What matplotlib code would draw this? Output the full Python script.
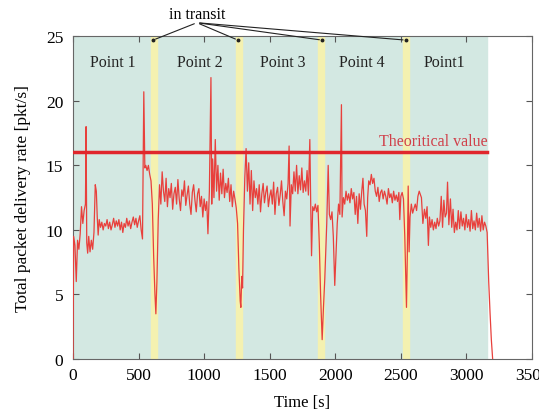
import matplotlib.pyplot as plt

seg_point1 = [(0, 0.0), (5, 9.5), (15, 8.8), (25, 6.0), (35, 9.2), (45, 8.5), (55, 9.7),
              (65, 11.8), (75, 10.5), (85, 11.5), (95, 12.0), (100, 18.0), (105, 9.0),
              (112, 8.2), (120, 9.5), (130, 8.3), (140, 9.2), (150, 8.5), (160, 9.8),
              (170, 13.5), (178, 13.0), (185, 11.0), (192, 9.6), (200, 10.8), (210, 10.2),
              (220, 10.6), (230, 10.0), (240, 10.5), (250, 10.3), (260, 10.8), (270, 10.1),
              (280, 10.6), (290, 10.0), (300, 10.4), (310, 10.9), (320, 10.2), (330, 10.7),
              (340, 10.3), (350, 10.8), (360, 10.0), (370, 10.6), (380, 9.8), (390, 10.5),
              (400, 10.2), (410, 10.9), (420, 10.3), (430, 10.7), (440, 10.1), (450, 10.6),
              (460, 11.0), (470, 10.4), (480, 10.9), (490, 10.2), (500, 10.7), (510, 11.1),
              (520, 10.0), (530, 9.3)]
seg_transit1 = [(540, 20.7), (548, 14.8), (555, 15.0), (565, 14.6), (575, 15.0), (585, 14.3),
                (595, 13.8), (605, 12.0), (615, 8.0), (625, 5.0), (632, 3.5), (640, 6.0)]
seg_point2 = [(650, 10.8), (660, 13.5), (670, 12.0), (680, 14.5), (690, 13.0), (700, 12.2),
              (710, 14.0), (720, 11.8), (730, 13.2), (740, 12.5), (750, 13.6), (760, 11.6),
              (770, 12.8), (780, 13.3), (790, 12.0), (800, 13.9), (810, 12.4), (820, 11.5),
              (830, 13.1), (840, 12.6), (850, 13.8), (860, 11.9), (870, 12.7), (880, 13.4),
              (890, 12.0), (900, 11.2), (910, 12.9), (920, 13.5), (930, 12.3), (940, 11.4),
              (950, 12.8), (960, 13.2), (970, 11.8), (980, 12.6), (990, 11.0), (1000, 12.4),
              (1010, 11.5), (1020, 12.2), (1029, 9.7), (1040, 13.0), (1052, 21.8), (1058, 12.0),
              (1065, 15.5), (1075, 12.5), (1085, 17.0), (1095, 13.0), (1105, 15.0), (1115, 12.3),
              (1125, 14.4), (1135, 12.8), (1145, 14.7), (1155, 12.5), (1165, 13.6), (1175, 12.9),
              (1185, 14.0), (1195, 12.2), (1205, 13.5), (1215, 11.8), (1225, 13.0), (1235, 12.4)]
seg_transit2 = [(1245, 11.7), (1255, 10.5), (1265, 7.0), (1275, 4.5), (1280, 4.0), (1287, 6.4),
                (1293, 5.5)]
seg_point3 = [(1300, 10.0), (1310, 14.0), (1320, 16.3), (1330, 13.0), (1340, 15.2), (1350, 12.0),
              (1360, 14.6), (1370, 11.5), (1380, 13.8), (1390, 12.5), (1400, 13.2), (1410, 12.0),
              (1420, 13.5), (1430, 11.4), (1440, 12.8), (1450, 13.6), (1460, 12.1), (1470, 12.9),
              (1480, 13.4), (1490, 11.8), (1500, 12.6), (1510, 13.1), (1520, 12.0), (1530, 13.7),
              (1540, 11.2), (1550, 12.8), (1560, 13.3), (1570, 11.9), (1580, 12.7), (1590, 13.8),
              (1600, 12.2), (1610, 11.1), (1620, 13.0), (1630, 12.4), (1640, 13.6), (1648, 16.5),
              (1655, 10.3), (1665, 13.5), (1675, 12.8), (1685, 14.5), (1695, 13.0), (1705, 15.0),
              (1715, 12.8), (1725, 14.2), (1735, 13.1), (1745, 14.8), (1755, 12.9), (1765, 13.8),
              (1775, 13.0), (1785, 14.6), (1795, 12.7), (1806, 17.0), (1812, 12.5), (1819, 8.0),
              (1828, 11.8), (1838, 11.5), (1848, 12.0), (1858, 11.4)]
seg_transit3 = [(1868, 11.9), (1878, 9.0), (1888, 5.0), (1900, 1.5), (1910, 4.0), (1920, 6.2)]
seg_point4 = [(1935, 10.5), (1946, 15.0), (1955, 11.2), (1965, 10.8), (1975, 11.4), (1985, 9.5),
              (1996, 5.7), (2005, 8.0), (2015, 10.5), (2025, 12.0), (2035, 11.2), (2047, 19.7),
              (2052, 11.0), (2062, 12.5), (2072, 12.0), (2082, 13.0), (2092, 12.3), (2102, 12.8),
              (2112, 12.1), (2122, 13.2), (2132, 12.4), (2142, 12.9), (2152, 11.2), (2162, 12.6),
              (2172, 10.5), (2182, 12.8), (2192, 11.6), (2202, 13.0), (2211, 14.0), (2220, 12.0),
              (2230, 11.5), (2240, 9.5), (2247, 12.5), (2255, 13.8), (2265, 13.5), (2275, 14.3),
              (2285, 13.6), (2295, 14.0), (2305, 13.0), (2315, 12.6), (2325, 13.3), (2335, 12.2),
              (2345, 12.9), (2355, 13.1), (2365, 12.4), (2375, 13.0), (2385, 12.6), (2395, 12.0),
              (2405, 13.2), (2415, 12.5), (2425, 12.8), (2435, 12.1), (2445, 13.0), (2455, 12.3),
              (2465, 12.7), (2475, 12.2), (2485, 12.9), (2492, 10.8), (2500, 12.6), (2510, 12.9)]
seg_transit4 = [(2520, 12.4), (2530, 9.5), (2543, 4.0), (2550, 8.5), (2556, 13.4), (2563, 8.3)]
seg_point1b = [(2570, 11.0), (2580, 12.0), (2590, 11.3), (2598, 11.6), (2610, 12.0), (2620, 11.5),
               (2630, 12.6), (2640, 13.0), (2657, 12.5), (2668, 10.5), (2680, 11.6), (2690, 10.9),
               (2700, 11.8), (2710, 8.8), (2718, 11.0), (2728, 10.2), (2738, 10.8), (2748, 10.0),
               (2758, 10.6), (2768, 10.1), (2778, 10.9), (2788, 10.3), (2798, 10.7), (2808, 12.6),
               (2818, 10.2), (2828, 12.3), (2838, 11.0), (2848, 11.3), (2856, 13.7), (2866, 10.4),
               (2878, 12.4), (2888, 10.2), (2898, 11.6), (2908, 9.8), (2918, 10.6), (2928, 10.0),
               (2938, 11.5), (2948, 10.1), (2958, 11.4), (2968, 10.3), (2978, 10.9), (2988, 10.0),
               (2998, 11.2), (3008, 10.2), (3018, 10.8), (3028, 9.9), (3038, 11.5), (3048, 10.1),
               (3058, 10.7), (3068, 10.0), (3078, 11.3), (3088, 10.2), (3098, 10.9), (3108, 9.9),
               (3118, 11.1), (3128, 10.0), (3138, 10.6), (3148, 10.3), (3158, 9.8), (3170, 6.0),
               (3180, 3.6), (3190, 1.5), (3200, 0.0)]

segments = [seg_point1, seg_transit1, seg_point2, seg_transit2, seg_point3,
            seg_transit3, seg_point4, seg_transit4, seg_point1b]
time_s = [p[0] for seg in segments for p in seg]
rate = [p[1] for seg in segments for p in seg]

transit_start = [595, 1242, 1867, 2515]
transit_end = [640, 1288, 1913, 2560]
transit_tip = [610, 1258, 1900, 2538]
meas_end = 3160
theory = 16

zone_labels = ['Point 1', 'Point 2', 'Point 3', 'Point 4', 'Point1']
zone_x = [300, 970, 1600, 2200, 2835]

plt.rcParams['font.family'] = 'Liberation Serif'
plt.rcParams['font.size'] = 12

fig = plt.figure(figsize=(5.39, 4.14), dpi=100)
ax = fig.add_axes([0.1354, 0.1304, 0.8516, 0.7796])

# zones
ax.axvspan(0, meas_end, color='#d3e8e2', zorder=0)
for a, b in zip(transit_start, transit_end):
    ax.axvspan(a, b, color='#f4f1b0', zorder=1)

ax.plot(time_s, rate, color='#e8403c', lw=0.9, zorder=3)
ax.plot([0, meas_end], [theory, theory], color='#e0262c', lw=2.5, zorder=4)
ax.text(meas_end, theory + 0.25, 'Theoritical value', color='#d0404a',
        ha='right', va='bottom', fontsize=11.5, zorder=5)

for lbl, x in zip(zone_labels, zone_x):
    ax.text(x, 23.0, lbl, ha='center', va='center', fontsize=11.5, color='#222222')

# annotation "in transit"
for tx in transit_tip:
    ax.annotate('', xy=(tx, 24.7), xytext=(945, 26.05), annotation_clip=False,
                arrowprops=dict(arrowstyle='-', color='#222222', lw=0.8))
    ax.plot(tx, 24.7, marker='o', ms=1.8, color='#222222', clip_on=False, zorder=6)
ax.text(945, 26.1, 'in transit', ha='center', va='bottom', fontsize=11.5)

ax.set_xlim(0, 3500)
ax.set_ylim(0, 25)
ax.set_xticks(range(0, 3501, 500))
ax.set_yticks(range(0, 26, 5))
ax.tick_params(direction='in', top=True, right=True, length=4, color='#555555',
               labelsize=12.5)
ax.tick_params(axis='x', pad=6)
ax.tick_params(axis='y', pad=7)
for s in ax.spines.values():
    s.set_color('#666666')

ax.set_xlabel('Time [s]', fontsize=12, labelpad=8)
ax.set_ylabel('Total packet delivery rate [pkt/s]', fontsize=12.5, labelpad=11)

fig.savefig('out.png', dpi=100)
